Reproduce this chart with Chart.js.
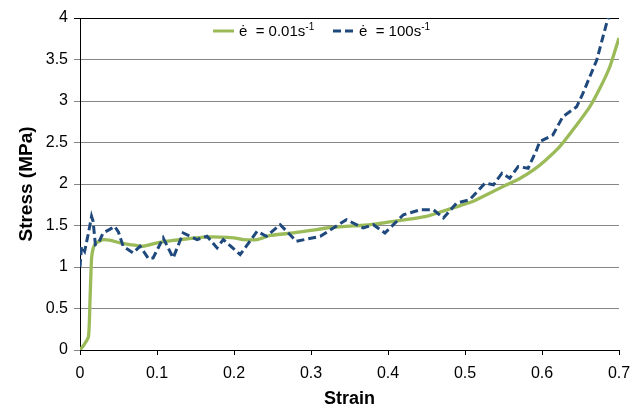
<!DOCTYPE html>
<html>
<head>
<meta charset="utf-8">
<script src="https://cdn.jsdelivr.net/npm/chart.js@4"></script>
<style>
    html, body { margin: 0; padding: 0; background: #fff; }
    #wrap { width: 641px; height: 410px; }
</style>
</head>
<body>
<div id="wrap"><canvas id="chart" width="641" height="410"></canvas></div>
<script>
// strain rate 0.01 s^-1
const slowStrain = [0, 0.005, 0.011, 0.013, 0.015, 0.017, 0.02, 0.025, 0.03, 0.04, 0.052, 0.065, 0.082, 0.1, 0.121, 0.14, 0.16, 0.182, 0.2, 0.212, 0.23, 0.247, 0.277, 0.3, 0.32, 0.345, 0.364, 0.385, 0.407, 0.43, 0.45, 0.467, 0.494, 0.51, 0.53, 0.554, 0.57, 0.589, 0.605, 0.623, 0.64, 0.662, 0.675, 0.688, 0.7];
const slowStress = [0, 0.06, 0.16, 0.6, 1.1, 1.22, 1.28, 1.31, 1.33, 1.32, 1.29, 1.27, 1.25, 1.29, 1.32, 1.34, 1.36, 1.36, 1.35, 1.33, 1.33, 1.38, 1.41, 1.44, 1.47, 1.49, 1.5, 1.52, 1.55, 1.58, 1.61, 1.66, 1.74, 1.79, 1.88, 1.99, 2.06, 2.17, 2.29, 2.45, 2.65, 2.93, 3.15, 3.41, 3.76];

// strain rate 100 s^-1
const fastStrain = [0, 0.002, 0.006, 0.011, 0.015, 0.017, 0.02, 0.024, 0.03, 0.038, 0.045, 0.05, 0.056, 0.069, 0.078, 0.089, 0.095, 0.108, 0.121, 0.134, 0.152, 0.165, 0.178, 0.186, 0.208, 0.23, 0.242, 0.26, 0.281, 0.312, 0.346, 0.368, 0.381, 0.396, 0.42, 0.442, 0.459, 0.472, 0.489, 0.506, 0.526, 0.537, 0.548, 0.558, 0.569, 0.582, 0.593, 0.597, 0.614, 0.627, 0.645, 0.653, 0.671, 0.684, 0.69];
const fastStress = [1.0, 1.25, 1.19, 1.41, 1.61, 1.55, 1.27, 1.29, 1.41, 1.45, 1.49, 1.42, 1.25, 1.17, 1.25, 1.10, 1.11, 1.35, 1.11, 1.41, 1.33, 1.37, 1.23, 1.33, 1.15, 1.43, 1.37, 1.51, 1.31, 1.37, 1.57, 1.47, 1.51, 1.41, 1.63, 1.69, 1.69, 1.59, 1.77, 1.81, 2.01, 1.99, 2.13, 2.07, 2.21, 2.19, 2.41, 2.51, 2.59, 2.81, 2.93, 3.09, 3.49, 3.94, 4.1];

const xTicks = [0, 0.1, 0.2, 0.3, 0.4, 0.5, 0.6, 0.7];
const yTicks = [0, 0.5, 1, 1.5, 2, 2.5, 3, 3.5, 4];
const seriesLabels = ["\u0117  = 0.01s", "\u0117  = 100s"];

const green = "#9bbb59";
const blue = "#1f497d";
const font = "'Liberation Sans', Arial, sans-serif";

function toPoints(xs, ys) {
    return xs.map((x, i) => ({ x: x, y: ys[i] }));
}

// legend drawn inside the plot, like the original
const legendPlugin = {
    id: "innerLegend",
    afterDraw(chart) {
        const ctx = chart.ctx;
        const items = [
            { x: 213, color: green, dash: [], text: seriesLabels[0] },
            { x: 333, color: blue, dash: [8, 4], text: seriesLabels[1] }
        ];
        ctx.save();
        items.forEach(item => {
            ctx.beginPath();
            ctx.setLineDash(item.dash);
            ctx.strokeStyle = item.color;
            ctx.lineWidth = 3;
            ctx.moveTo(item.x, 31);
            ctx.lineTo(item.x + 21, 31);
            ctx.stroke();
            ctx.setLineDash([]);
            ctx.fillStyle = "#000";
            ctx.textBaseline = "middle";
            ctx.font = "15px " + font;
            ctx.fillText(item.text, item.x + 26, 32);
            const w = ctx.measureText(item.text).width;
            ctx.font = "10px " + font;
            ctx.fillText("-1", item.x + 26 + w, 27);
        });
        ctx.restore();
    }
};

new Chart(document.getElementById("chart"), {
    type: "scatter",
    data: {
        datasets: [{
            label: seriesLabels[1],
            data: toPoints(fastStrain, fastStress),
            showLine: true,
            borderColor: blue,
            borderWidth: 3,
            borderDash: [8, 4],
            pointRadius: 0,
            tension: 0
        }, {
            label: seriesLabels[0],
            data: toPoints(slowStrain, slowStress),
            showLine: true,
            borderColor: green,
            borderWidth: 3.3,
            pointRadius: 0,
            tension: 0.2
        }]
    },
    options: {
        responsive: false,
        animation: false,
        events: [],
        layout: { padding: { top: 18, right: 22, left: 0, bottom: 0 } },
        plugins: {
            legend: { display: false },
            tooltip: { enabled: false }
        },
        scales: {
            x: {
                type: "linear",
                min: 0,
                max: 0.7,
                afterFit: scale => { scale.height = 60; },
                afterBuildTicks: scale => { scale.ticks = xTicks.map(v => ({ value: v })); },
                ticks: {
                    font: { family: font, size: 16 },
                    color: "#000",
                    padding: 9,
                    maxRotation: 0,
                    callback: v => String(+v.toFixed(1))
                },
                grid: { drawOnChartArea: false, tickLength: 5, color: "#000" },
                border: { color: "#000", width: 1 },
                title: {
                    display: true,
                    text: "Strain",
                    color: "#000",
                    font: { family: font, size: 18, weight: "bold" },
                    padding: { top: 0, bottom: 0 }
                }
            },
            y: {
                min: 0,
                max: 4,
                afterFit: scale => { scale.width = 80; },
                afterBuildTicks: scale => { scale.ticks = yTicks.map(v => ({ value: v })); },
                ticks: {
                    font: { family: font, size: 16 },
                    color: "#000",
                    padding: 6,
                    callback: v => String(+v.toFixed(1))
                },
                grid: {
                    tickLength: 6,
                    color: ctx => (ctx.tick && ctx.tick.value === 4) ? "#000" : "#868686",
                    lineWidth: 1
                },
                border: { color: "#000", width: 1 },
                title: {
                    display: true,
                    text: "Stress (MPa)",
                    color: "#000",
                    font: { family: font, size: 19, weight: "bold" },
                    padding: { top: 15, bottom: 0 }
                }
            }
        }
    },
    plugins: [legendPlugin]
});
</script>
</body>
</html>
